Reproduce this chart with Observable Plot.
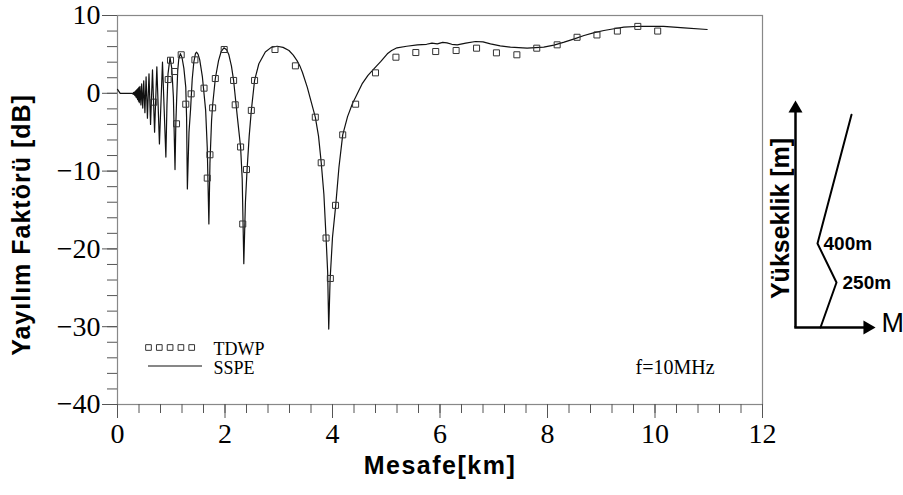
<!DOCTYPE html>
<html><head><meta charset="utf-8">
<script src="https://cdn.jsdelivr.net/npm/d3@7"></script>
<script src="https://cdn.jsdelivr.net/npm/@observablehq/plot@0.6"></script>
<style>
body{margin:0;background:#fff;}
#wrap{position:relative;width:903px;height:495px;overflow:hidden;background:#fff;}
#wrap svg{position:absolute;left:0;top:0;}
</style></head><body><div id="wrap"></div>
<script>
// ---- data ----
const tdwpX = [0.675,0.943,0.986,1.06,1.098,1.185,1.27,1.37,1.44,1.61,1.67,1.72,1.77,1.82,1.985,2.16,2.19,2.29,2.33,2.40,2.49,2.55,2.93,3.31,3.68,3.79,3.88,3.96,4.056,4.19,4.43,4.80,5.18,5.55,5.92,6.30,6.68,7.05,7.43,7.80,8.18,8.55,8.92,9.30,9.68,10.05];
const tdwpY = [-1.14,1.77,4.25,2.8,-3.92,4.95,-1.4,-0.07,4.3,0.66,-10.9,-7.9,-1.87,1.9,5.63,1.65,-1.48,-6.9,-16.8,-9.8,-2.2,1.65,5.63,3.53,-3.07,-8.93,-18.6,-23.8,-14.4,-5.34,-1.4,2.63,4.64,5.24,5.37,5.5,5.8,5.2,4.95,5.8,6.23,7.2,7.5,8.0,8.6,8.0];

const sspeX = [0,0.05,0.28,0.29,0.297,0.304,0.311,0.318,0.325,0.332,0.339,0.346,0.353,0.36,0.367,0.374,0.381,0.389,0.397,0.406,0.418,0.436,0.45,0.47,0.488,0.51,0.532,0.557,0.586,0.615,0.651,0.69,0.732,0.78,0.837,0.90,0.92,0.94,0.977,1.01,1.04,1.07,1.085,1.10,1.12,1.14,1.17,1.20,1.235,1.27,1.285,1.30,1.33,1.36,1.39,1.42,1.45,1.47,1.50,1.53,1.58,1.64,1.67,1.70,1.72,1.75,1.77,1.82,1.88,1.93,1.98,2.03,2.07,2.12,2.16,2.23,2.29,2.32,2.35,2.38,2.41,2.45,2.49,2.55,2.63,2.75,2.86,2.97,3.08,3.19,3.27,3.34,3.40,3.44,3.53,3.60,3.68,3.74,3.79,3.84,3.88,3.91,3.93,3.955,4.00,4.06,4.12,4.19,4.28,4.37,4.55,4.66,4.77,4.90,5.02,5.10,5.20,5.38,5.58,5.75,5.85,5.95,6.05,6.13,6.22,6.32,6.48,6.66,6.80,6.94,7.12,7.31,7.62,7.93,8.12,8.31,8.50,8.68,8.87,9.05,9.24,9.42,9.73,10.16,10.54,10.97];
const sspeY = [0.5,0,0,-0.1,0.1,-0.15,0.15,-0.25,0.2,-0.35,0.3,-0.5,0.4,-0.6,0.5,-0.8,0.6,-1.0,0.75,-1.2,0.9,-1.5,1.2,-1.9,1.6,-2.5,2.1,-3.2,2.5,-4.0,3.0,-5.0,3.4,-6.5,4.0,-8.2,-1.5,2.5,4.6,3.2,-0.5,-9.8,-4.0,-0.9,2.9,4.4,5.1,4.6,3.2,0.8,-3.0,-12.3,-5.0,-2.0,1.8,4.0,5.1,5.28,5.0,4.3,2.07,-2.2,-7.0,-16.8,-9.0,-3.5,-1.5,1.9,4.2,5.4,5.85,5.6,5.0,3.5,1.65,-3.07,-6.9,-11.0,-21.9,-14.0,-9.9,-5.5,-2.2,1.65,3.8,5.3,5.9,6.05,5.9,5.5,4.9,4.2,3.4,2.7,0.8,-1.0,-3.07,-5.5,-8.9,-13.0,-18.5,-23.0,-30.3,-24.0,-18.5,-14.4,-9.5,-5.34,-3.0,-1.35,1.2,2.3,3.15,4.1,5.08,5.5,5.85,6.05,6.23,6.3,6.45,6.36,6.55,6.49,6.3,6.23,6.45,6.66,6.6,6.36,6.1,5.93,5.8,5.93,6.2,6.57,7.0,7.43,7.8,8.07,8.3,8.5,8.62,8.59,8.42,8.2];

const xTicks = [0,2,4,6,8,10,12];
const yTicks = [-40,-30,-20,-10,0,10];
const xMinor = d3.range(0, 12.001, 0.4);
const yMinor = d3.range(-40, 10.001, 2);
const xLabel = "Mesafe[km]";
const yLabel = "Yayılım Faktörü [dB]";
const seriesNames = ["TDWP", "SSPE"];
const freqLabel = "f=10MHz";

// inset: schematic refractivity profile
const profileM = [25, 41, 22, 56];
const profileH = [0, 250, 400, 1300];
const profileLabels = ["", "250m", "400m", ""];
const insetYLabel = "Yükseklik [m]";
const insetXLabel = "M";

// ---- build ----
const tdwp = tdwpX.map((x, i) => ({x, y: tdwpY[i]}));
const sspe = sspeX.map((x, i) => ({x, y: sspeY[i]}));
const serif = "'Liberation Serif', 'DejaVu Serif', serif";
const sans = "'Liberation Sans', Arial, sans-serif";

const main = Plot.plot({
  width: 903, height: 495,
  marginLeft: 117, marginRight: 141, marginTop: 15, marginBottom: 91,
  x: {domain: [0, 12]},
  y: {domain: [-40, 10]},
  style: {background: "transparent", fontFamily: serif},
  marks: [
    Plot.frame({stroke: "#888", strokeWidth: 1.2}),
    Plot.axisX({ticks: xMinor, tickSize: 9, tickFormat: () => "", label: null, stroke: "#555"}),
    Plot.axisY({ticks: yMinor, tickSize: 10, tickFormat: () => "", label: null, stroke: "#555"}),
    Plot.axisX({ticks: xTicks, tickSize: 14, tickPadding: 5, label: null, stroke: "#555",
      fontSize: 28, fontFamily: serif, fill: "#000", letterSpacing: 2}),
    Plot.axisY({ticks: yTicks, tickSize: 15, tickPadding: 2, label: null, stroke: "#555",
      fontSize: 28, fontFamily: serif, fill: "#000", letterSpacing: 2}),
    Plot.line(sspe, {x: "x", y: "y", stroke: "#111", strokeWidth: 1.2}),
    Plot.dot(tdwp, {x: "x", y: "y", symbol: "square", r: 3.4, stroke: "#333", strokeWidth: 1, fill: "none"}),
    Plot.text([freqLabel], {frameAnchor: "top-left", dx: 518, dy: 352, textAnchor: "start", lineAnchor: "middle", fontSize: 20, fontFamily: serif, letterSpacing: 1}),
    Plot.text([seriesNames[0]], {frameAnchor: "top-left", dx: 96, dy: 334, textAnchor: "start", lineAnchor: "middle", fontSize: 18, fontFamily: serif, letterSpacing: 1}),
    Plot.text([seriesNames[1]], {frameAnchor: "top-left", dx: 96, dy: 353, textAnchor: "start", lineAnchor: "middle", fontSize: 18, fontFamily: serif, letterSpacing: 1}),
    ...d3.range(5).map(i => Plot.dot([0], {frameAnchor: "top-left", dx: 31 + i * 10.8, dy: 332, symbol: "square", r: 3.2, stroke: "#333", strokeWidth: 1, fill: "none"}))
  ]
});
const msel = d3.select(main);
// legend line sample
msel.append("line").attr("x1", 148).attr("x2", 202).attr("y1", 366).attr("y2", 366)
  .attr("stroke", "#111").attr("stroke-width", 1.2);
// axis titles
msel.append("text").text(xLabel)
  .attr("x", 440).attr("y", 467).attr("text-anchor", "middle").attr("dominant-baseline", "middle")
  .attr("font-family", sans).attr("font-weight", "bold").attr("font-size", 25).attr("letter-spacing", 1.5);
msel.append("text").text(yLabel)
  .attr("transform", "translate(23,225) rotate(-90)").attr("text-anchor", "middle").attr("dominant-baseline", "middle")
  .attr("font-family", sans).attr("font-weight", "bold").attr("font-size", 25).attr("letter-spacing", 1);

const profile = profileM.map((m, i) => ({m, h: profileH[i], label: profileLabels[i]}));
const inset = Plot.plot({
  width: 903, height: 495, margin: 0,
  x: {type: "linear", domain: [0, 80], range: [795, 875], axis: null},
  y: {type: "linear", domain: [0, 250, 400, 1400], range: [327, 282, 243, 100], axis: null},
  style: {background: "transparent", fontFamily: sans},
  marks: [
    Plot.link([0], {x1: 0, y1: 0, x2: 0, y2: 1340, stroke: "#000", strokeWidth: 2.5}),
    Plot.link([0], {x1: -1.2, y1: 0, x2: 74, y2: 0, stroke: "#000", strokeWidth: 2.5}),
    Plot.dot([0], {x: 0, y: 1400, dy: 8, symbol: "triangle", r: 5.2, fill: "#000", stroke: "none"}),
    Plot.dot([0], {x: 80, y: 0, dx: -8, rotate: 90, symbol: "triangle", r: 5.2, fill: "#000", stroke: "none"}),
    Plot.line(profile, {x: "m", y: "h", stroke: "#000", strokeWidth: 2}),
    Plot.text(profile.filter(d => d.label), {x: "m", y: "h", text: "label", textAnchor: "start", dx: 6, lineAnchor: "middle", fontSize: 19, fontWeight: "bold", letterSpacing: 1.5}),
    Plot.text([insetXLabel], {x: 80, y: 0, dx: 6, dy: -4, textAnchor: "start", lineAnchor: "middle", fontSize: 27}),
    Plot.text([insetYLabel], {x: -15, y: 575, rotate: -90, lineAnchor: "middle", fontSize: 25, fontWeight: "bold"})
  ]
});

const wrap = document.getElementById("wrap");
wrap.appendChild(main);
wrap.appendChild(inset);
</script>
</body></html>
